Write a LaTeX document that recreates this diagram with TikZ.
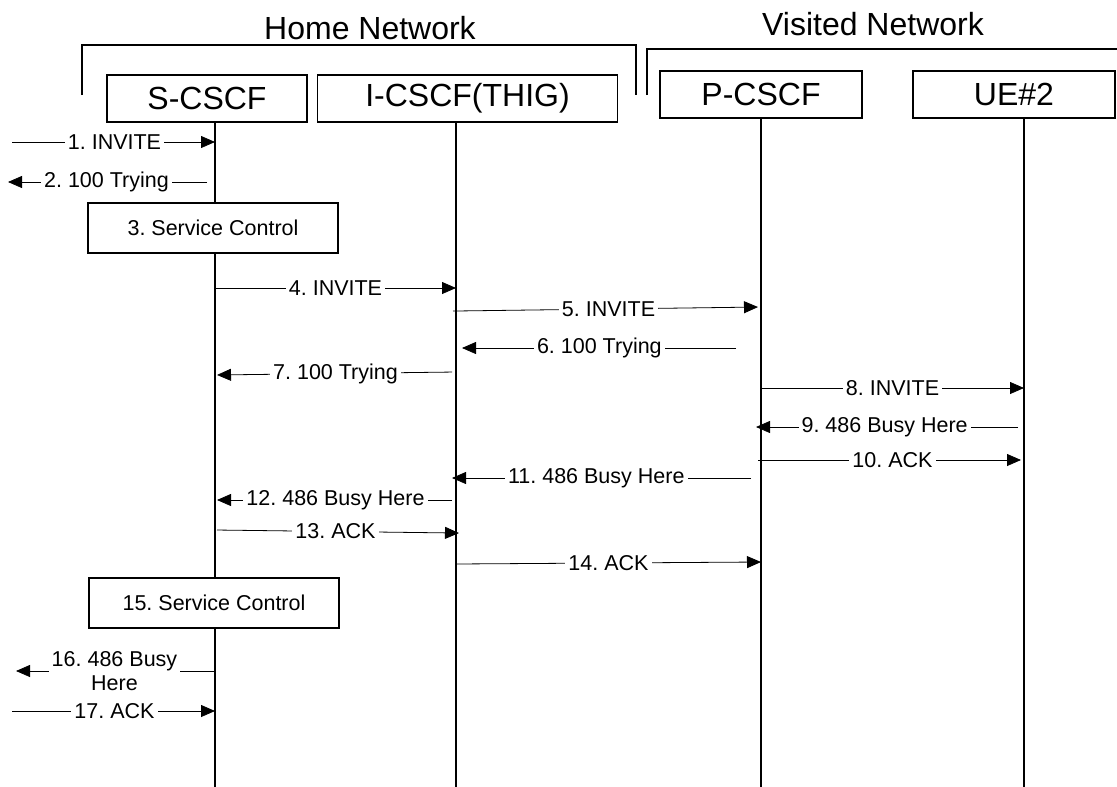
\documentclass[tikz,border=0pt]{standalone}
\usepackage{fontspec}
\setmainfont{Liberation Sans}
\usetikzlibrary{arrows.meta,calc}
\frenchspacing

\begin{document}
\begin{tikzpicture}[x=1pt,y=-1pt,>={Triangle[length=14pt,width=12pt]},
  entity/.style={draw,line width=1.1pt,minimum width=200pt,minimum height=47pt,inner sep=0pt,font=\fontsize{32}{38}\selectfont},
  ctrl/.style={draw,fill=white,line width=1.1pt,minimum width=250pt,minimum height=50pt,inner sep=0pt,font=\fontsize{21.5}{25}\selectfont},
  life/.style={line width=1.2pt},
  msg/.style={->,line width=0.8pt},
  lbl/.style={fill=white,inner sep=3pt,font=\fontsize{21.5}{24}\selectfont},
  bracket/.style={line width=1.1pt}]
  \useasboundingbox (0,0) rectangle (1117,787);

  % networks
  \node[font=\fontsize{32}{38}\selectfont] (home) at (370,28) {Home Network};
  \node[font=\fontsize{32}{38}\selectfont] (visited) at (873,24) {Visited Network};
  \draw[bracket] (82,95) -- (82,45) -- (636,45) -- (636,95);
  \draw[bracket] (647,95) -- (647,49) -- (1117,49);

  % entities
  \node[entity] (scscf) at (207,98.5) {S-CSCF};
  \node[entity,minimum width=300pt] (icscf) at (467.5,98.5) {I-CSCF(THIG)};
  \node[entity,minimum width=202pt] (pcscf) at (761,94.5) {P-CSCF};
  \node[entity,minimum width=202pt] (ue) at (1014,94.5) {UE\#2};

  % lifelines
  \coordinate (sL) at (scscf.south -| 215,0);
  \coordinate (iL) at (icscf.south -| 456,0);
  \coordinate (pL) at (pcscf.south -| 761,0);
  \coordinate (uL) at (ue.south -| 1024,0);
  \coordinate (sB) at (215,787);
  \coordinate (iB) at (456,787);
  \coordinate (pB) at (761,787);
  \coordinate (uB) at (1024,787);
  \draw[life] (sL) -- (sB);
  \draw[life] (iL) -- (iB);
  \draw[life] (pL) -- (pB);
  \draw[life] (uL) -- (uB);
  \coordinate (west) at (14,0);

  % messages
  \draw[msg,shorten <=-2pt] (west |- 0,142) -- node[lbl] {1. INVITE} (sL |- 0,142);
  \draw[msg,shorten <=8pt,shorten >=-6pt] (sL |- 0,182) -- node[lbl,pos=0.54] {2. 100 Trying} (west |- 0,182);
  \node[ctrl] (sc1) at (213,228) {3. Service Control};
  \draw[msg] (sL |- 0,288) -- node[lbl] {4. INVITE} (iL |- 0,288);
  \draw[msg,shorten <=-3pt,shorten >=3pt] (iL |- 0,311) -- node[lbl] {5. INVITE} (pL |- 0,307);
  \draw[msg,shorten <=25pt,shorten >=6pt] (pL |- 0,348) -- node[lbl,pos=0.53] {6. 100 Trying} (iL |- 0,348);
  \draw[msg,shorten <=4pt,shorten >=2pt] (iL |- 0,372) -- node[lbl] {7. 100 Trying} (sL |- 0,375);
  \draw[msg] (pL |- 0,388) -- node[lbl] {8. INVITE} (uL |- 0,388);
  \draw[msg,shorten <=6pt,shorten >=-5pt] (uL |- 0,427) -- node[lbl,pos=0.53] {9. 486 Busy Here} (pL |- 0,427);
  \draw[msg,shorten <=-3pt,shorten >=3pt] (pL |- 0,460) -- node[lbl] {10. ACK} (uL |- 0,460);
  \draw[msg,shorten <=10pt,shorten >=-4pt] (pL |- 0,478) -- node[lbl,pos=0.54] {11. 486 Busy Here} (iL |- 0,478);
  \draw[msg,shorten <=4pt,shorten >=2pt] (iL |- 0,500) -- node[lbl] {12. 486 Busy Here} (sL |- 0,500);
  \draw[msg,shorten <=2pt,shorten >=-3pt] (sL |- 0,530) -- node[lbl] {13. ACK} (iL |- 0,533);
  \draw[msg,shorten <=1pt] (iL |- 0,564) -- node[lbl] {14. ACK} (pL |- 0,562);
  \node[ctrl] (sc2) at (214,603) {15. Service Control};
  \draw[msg,shorten <=1pt,shorten >=2pt] (sL |- 0,671) -- node[lbl,align=center] {16. 486 Busy\\Here} (west |- 0,671);
  \draw[msg,shorten <=-2pt] (west |- 0,711) -- node[lbl] {17. ACK} (sL |- 0,711);
\end{tikzpicture}
\end{document}
